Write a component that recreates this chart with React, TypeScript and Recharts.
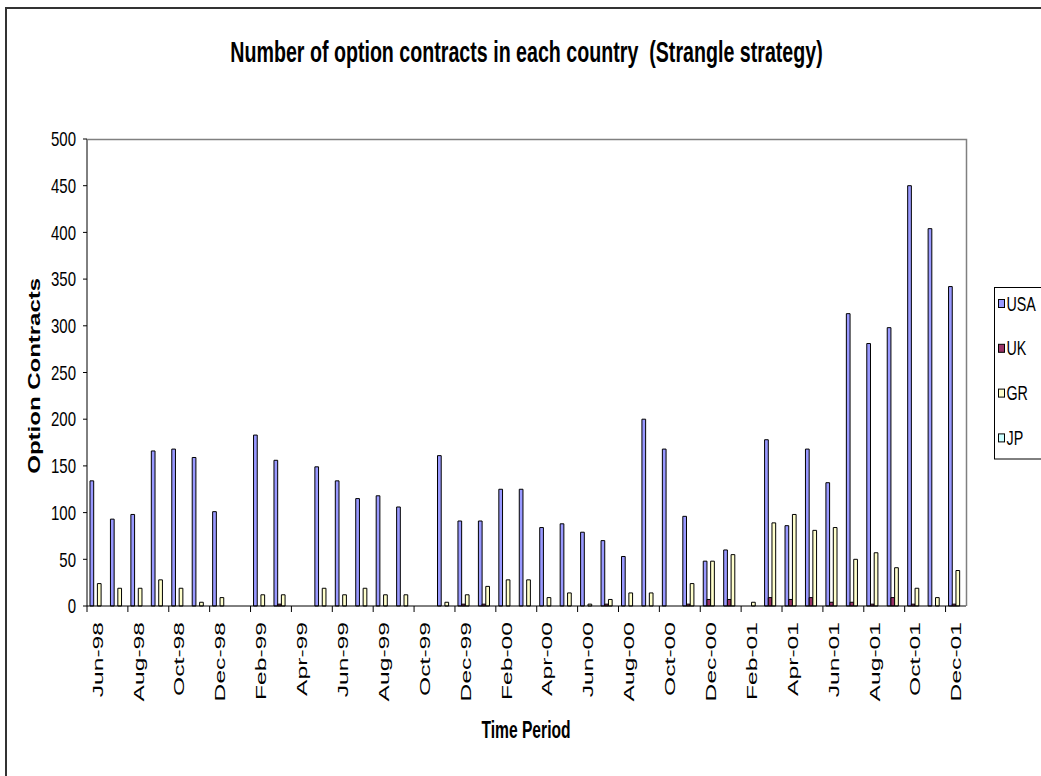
import React from 'react';
import { BarChart, Bar, XAxis, YAxis } from 'recharts';

const MONTHS = [
  'Jun-98', 'Jul-98', 'Aug-98', 'Sep-98', 'Oct-98', 'Nov-98', 'Dec-98',
  'Jan-99', 'Feb-99', 'Mar-99', 'Apr-99', 'May-99', 'Jun-99', 'Jul-99', 'Aug-99', 'Sep-99', 'Oct-99', 'Nov-99', 'Dec-99',
  'Jan-00', 'Feb-00', 'Mar-00', 'Apr-00', 'May-00', 'Jun-00', 'Jul-00', 'Aug-00', 'Sep-00', 'Oct-00', 'Nov-00', 'Dec-00',
  'Jan-01', 'Feb-01', 'Mar-01', 'Apr-01', 'May-01', 'Jun-01', 'Jul-01', 'Aug-01', 'Sep-01', 'Oct-01', 'Nov-01', 'Dec-01',
];

const USA = [
  134, 93, 98, 166, 168, 159, 101,
  0, 183, 156, 0, 149, 134, 115, 118, 106, 0, 161, 91,
  91, 125, 125, 84, 88, 79, 70, 53, 200, 168, 96, 48,
  60, 0, 178, 86, 168, 132, 313, 281, 298, 450, 404, 342,
];
const UK = [
  0, 0, 0, 0, 0, 0, 0,
  0, 0, 2, 0, 0, 0, 0, 0, 0, 0, 0, 2,
  2, 0, 0, 0, 0, 0, 2, 0, 0, 0, 2, 7,
  7, 0, 9, 7, 9, 4, 4, 2, 9, 2, 0, 2,
];
const GR = [
  24, 19, 19, 28, 19, 4, 9,
  0, 12, 12, 0, 19, 12, 19, 12, 12, 0, 4, 12,
  21, 28, 28, 9, 14, 2, 7, 14, 14, 0, 24, 48,
  55, 4, 89, 98, 81, 84, 50, 57, 41, 19, 9, 38,
];
const JP = [
  0, 0, 0, 0, 0, 0, 0,
  0, 0, 0, 0, 0, 0, 0, 0, 0, 0, 0, 0,
  0, 0, 0, 0, 0, 0, 0, 0, 0, 0, 0, 0,
  0, 0, 0, 0, 0, 0, 0, 0, 0, 0, 0, 0,
];

const Y_TICKS = [0, 50, 100, 150, 200, 250, 300, 350, 400, 450, 500];

const SERIES = [
  { key: 'usa', name: 'USA', color: '#9999FF' },
  { key: 'uk', name: 'UK', color: '#993366' },
  { key: 'gr', name: 'GR', color: '#FFFFCC' },
  { key: 'jp', name: 'JP', color: '#CCFFFF' },
];

const data = MONTHS.map((month, i) => ({ month, usa: USA[i], uk: UK[i], gr: GR[i], jp: JP[i] }));

const W = 1041;
const H = 776;
const PLOT_LEFT = 87;
const PLOT_RIGHT = 966;
const PLOT_TOP = 139;
const PLOT_BOTTOM = 606;
const HALF_BAND = (PLOT_RIGHT - PLOT_LEFT) / MONTHS.length / 2;
const FONT = '"Liberation Sans", Arial, sans-serif';

// month labels sit under every other category, tick marks on the band edge
function MonthTick({ x, y, payload }: any) {
  return (
    <g>
      <line x1={x - HALF_BAND} x2={x - HALF_BAND} y1={y - 6} y2={y} stroke="#000" strokeWidth={1} />
      <text
        transform={`translate(${x + 5.5},${y + 10}) rotate(-90) scale(1.6,1)`}
        textAnchor="end"
        fontSize={15.4}
        fontFamily={FONT}
        fill="#000"
      >
        {payload.value}
      </text>
    </g>
  );
}

function CountTick({ x, y, payload }: any) {
  return (
    <text
      transform={`translate(${x},${y}) scale(0.75,1)`}
      textAnchor="end"
      dy="0.36em"
      fontSize={20}
      fontFamily={FONT}
      fill="#000"
    >
      {payload.value}
    </text>
  );
}

function Legend() {
  return (
    <g fontFamily={FONT}>
      <rect x={994.5} y={287.5} width={80} height={171.5} fill="#fff" stroke="#000" strokeWidth={1} />
      {SERIES.map((s, i) => {
        const cy = 303.5 + i * 44.8;
        return (
          <g key={s.key}>
            <rect x={998.5} y={cy - 4} width={6} height={8} fill={s.color} stroke="#000" strokeWidth={1} />
            <text transform={`translate(1006.5,${cy + 7}) scale(0.68,1)`} fontSize={21} fill="#000">
              {s.name}
            </text>
          </g>
        );
      })}
    </g>
  );
}

export default function App() {
  return (
    <div style={{ position: 'absolute', left: 0, top: 0, width: W, height: H, overflow: 'hidden', background: '#fff' }}>
      <div
        style={{
          position: 'absolute', left: 5, top: 7, width: W + 40, height: H + 40,
          borderLeft: '2px solid #333', borderTop: '2px solid #333',
        }}
      />
      <div style={{ position: 'absolute', left: 0, top: 0 }}>
        <BarChart
          width={W}
          height={H}
          data={data}
          margin={{ top: PLOT_TOP, right: W - PLOT_RIGHT, bottom: 70, left: PLOT_LEFT - 60 }}
          barGap={0}
          barSize={3.7}
        >
          <XAxis
            dataKey="month"
            interval={1}
            height={100}
            axisLine={{ stroke: '#000' }}
            tickLine={false}
            tickSize={6}
            tickMargin={0}
            tick={<MonthTick />}
          />
          <YAxis
            domain={[0, 500]}
            ticks={Y_TICKS}
            width={60}
            interval={0}
            axisLine={{ stroke: '#000' }}
            tickLine={{ stroke: '#000' }}
            tickSize={4}
            tickMargin={7}
            tick={<CountTick />}
          />
          {SERIES.map((s) => (
            <Bar key={s.key} dataKey={s.key} name={s.name} fill={s.color} stroke="#000" strokeWidth={1} isAnimationActive={false} />
          ))}
        </BarChart>
      </div>
      <svg width={W} height={H} style={{ position: 'absolute', left: 0, top: 0, pointerEvents: 'none' }}>
        {/* grey plot-area border on top and right */}
        <path
          d={`M${PLOT_LEFT},${PLOT_TOP + 0.5} H${PLOT_RIGHT + 0.5} V${PLOT_BOTTOM}`}
          fill="none"
          stroke="#808080"
          strokeWidth={1.5}
        />
        <text
          transform="translate(526.5,61.5) scale(0.655,1)"
          textAnchor="middle"
          fontSize={30}
          fontWeight="bold"
          fontFamily={FONT}
          style={{ whiteSpace: 'pre' }}
        >
          Number of option contracts in each country  (Strangle strategy)
        </text>
        <text transform="translate(526,738) scale(0.68,1)" textAnchor="middle" fontSize={23} fontWeight="bold" fontFamily={FONT}>
          Time Period
        </text>
        <text
          transform="translate(39.5,375.8) rotate(-90) scale(1.5,1)"
          textAnchor="middle"
          fontSize={16}
          fontWeight="bold"
          fontFamily={FONT}
        >
          Option Contracts
        </text>
        <Legend />
      </svg>
    </div>
  );
}
